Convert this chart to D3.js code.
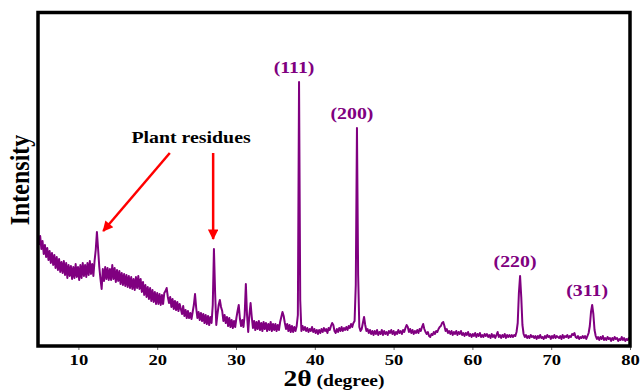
<!DOCTYPE html>
<html>
<head>
<meta charset="utf-8">
<script src="https://cdn.jsdelivr.net/npm/d3@7"></script>
<style>
  body { margin: 0; background: #fff; }
  text { font-family: "Liberation Serif", "Times New Roman", serif; font-weight: bold; }
</style>
</head>
<body>
<div id="chart"></div>
<script>
// XRD scan: 2theta from 5 to 80 deg, step 0.15 deg (501 points)
var scanStart = 5;
var scanStep = 0.15;

// intensity (a.u.), one row = 3 degrees
var intensity = [
  100,109,96,104,91,100,88,97,85,94,82,92,80,90,77,88,75,86,73,83,
  72,84,70,82,67,80,69,79,66,78,67,81,68,78,65,80,67,82,69,80,
  68,82,70,84,71,81,69,84,95,113,96,78,66,56,76,64,78,66,77,65,
  76,65,80,66,77,63,75,64,74,61,72,60,71,59,70,58,69,57,68,56,
  66,55,68,57,69,56,66,53,63,50,60,48,58,46,57,44,55,43,53,41,
  52,41,51,40,50,41,52,54,57,48,42,48,38,46,36,44,35,43,34,41,
  36,31,39,29,35,27,34,27,32,26,33,40,51,37,27,33,25,32,24,31,
  22,30,21,29,20,28,22,40,96,52,20,31,40,45,38,34,24,30,22,28,
  19,27,18,25,17,24,18,27,34,40,26,19,25,18,30,61,30,13,30,42,
  28,17,24,15,23,16,24,15,22,14,23,16,22,14,21,15,23,14,21,15,
  21,14,20,15,23,28,33,29,22,16,21,14,20,13,19,13,18,14,19,30,
  263,45,14,19,15,18,14,17,13,16,14,18,13,16,12,15,11,15,12,16,
  13,17,14,16,12,17,15,19,22,20,14,12,16,13,17,14,18,14,17,15,
  18,15,19,17,21,18,22,24,60,217,70,18,14,16,22,28,20,14,16,12,
  15,11,14,10,14,11,15,10,13,11,15,10,14,11,13,10,14,12,15,11,
  14,10,13,11,15,12,14,11,15,13,17,20,18,13,16,12,15,11,14,12,
  15,12,16,14,18,21,16,13,11,13,9,8,11,10,13,11,14,13,16,18,
  19,22,23,19,14,16,12,14,11,14,10,13,11,14,10,13,11,14,10,12,
  9,12,10,13,9,11,8,11,9,12,8,11,9,12,8,10,8,11,9,11,
  8,10,7,11,8,10,7,10,13,8,10,7,10,8,11,7,10,8,10,8,
  10,8,10,9,13,22,52,69,48,20,11,8,10,7,9,7,10,8,9,7,
  9,6,9,7,10,7,8,6,9,7,10,8,9,6,9,7,10,7,9,8,
  7,9,6,10,7,9,8,10,7,9,8,11,10,12,8,7,9,6,8,7,
  9,7,9,6,9,12,19,33,40,31,15,9,6,8,5,8,6,9,5,7,
  5,8,6,7,4,7,5,8,6,7,4,6,5,8,5,7,4,6,5,7,
  6
];

var xTicks = [10, 20, 30, 40, 50, 60, 70, 80];

// Miller indices and their peak positions
var peakLabels = ["(111)", "(200)", "(220)", "(311)"];
var peakAngles = [38.0, 45.35, 66.05, 75.2];

// annotation: arrows from the caption to the plant residue peaks, [2theta, intensity]
var noteText = "Plant residues";
var notePos = [24.3, 202];
var arrowFrom = [[21.6, 192], [27.1, 192]];
var arrowTo = [[13.15, 114], [27.1, 106]];

var width = 641, height = 392;
var purple = "#800080";
var stretch = 1.24;   // glyphs in the original are drawn wider than tall

var data = intensity.map(function(v, i) {
  return { x: +(scanStart + i * scanStep).toFixed(2), y: v };
});

var x = d3.scaleLinear().domain([5, 80]).range([39, 630]);
var y = d3.scaleLinear().domain([0, 333]).range([345, 12]);

var svg = d3.select("#chart")
  .append("svg")
    .attr("width", width)
    .attr("height", height);

svg.append("defs")
  .append("marker")
    .attr("id", "head")
    .attr("viewBox", "0 0 10 10")
    .attr("refX", 9)
    .attr("refY", 5)
    .attr("markerWidth", 5)
    .attr("markerHeight", 4.2)
    .attr("markerUnits", "strokeWidth")
    .attr("orient", "auto")
  .append("path")
    .attr("d", "M0,0L10,5L0,10Z")
    .attr("fill", "#ff0000");

// pattern
svg.append("path")
  .datum(data)
  .attr("fill", "none")
  .attr("stroke", purple)
  .attr("stroke-width", 2)
  .attr("stroke-linejoin", "round")
  .attr("d", d3.line()
    .x(function(d) { return x(d.x); })
    .y(function(d) { return y(d.y); }));

// bottom axis
var xAxis = svg.append("g")
  .attr("transform", "translate(0,346)")
  .call(d3.axisBottom(x).tickValues(xTicks).tickSize(4).tickPadding(4));
xAxis.select(".domain").remove();
xAxis.selectAll(".tick line").attr("stroke", "#666").attr("stroke-width", 1);
xAxis.selectAll(".tick text")
  .attr("fill", "#000")
  .attr("transform", "scale(" + stretch + ",1)")
  .style("font-size", "15px")
  .style("font-family", "'Liberation Serif', serif")
  .style("font-weight", "bold");

// frame
svg.append("rect")
  .attr("x", 38)
  .attr("y", 12.5)
  .attr("width", 592)
  .attr("height", 333.5)
  .attr("fill", "none")
  .attr("stroke", "#000")
  .attr("stroke-width", 3.5);

// axis titles
var xt = svg.append("text")
  .attr("transform", "translate(334,386) scale(1.15,1)")
  .attr("text-anchor", "middle");
xt.append("tspan").style("font-size", "24px").text("2θ");
xt.append("tspan").style("font-size", "17px").text(" (degree)");

svg.append("text")
  .attr("transform", "translate(29,180) rotate(-90) scale(1,1.1)")
  .attr("text-anchor", "middle")
  .style("font-size", "24px")
  .text("Intensity");

// peak labels
var peakTop = function(a) {
  var i = Math.round((a - scanStart) / scanStep);
  return intensity[i];
};
svg.append("g")
  .selectAll("text")
  .data(peakLabels)
  .enter()
  .append("text")
    .attr("transform", function(d, i) {
      return "translate(" + (x(peakAngles[i]) - 5) + "," + (y(peakTop(peakAngles[i])) - 9) + ") scale(" + stretch + ",1)";
    })
    .attr("text-anchor", "middle")
    .attr("fill", purple)
    .style("font-size", "16px")
    .text(function(d) { return d; });

// plant residues annotation
svg.append("text")
  .attr("transform", "translate(" + x(notePos[0]) + "," + y(notePos[1]) + ") scale(" + stretch + ",1)")
  .attr("text-anchor", "middle")
  .style("font-size", "16px")
  .text(noteText);

svg.append("g")
  .selectAll("line")
  .data(arrowFrom)
  .enter()
  .append("line")
    .attr("x1", function(d) { return x(d[0]); })
    .attr("y1", function(d) { return y(d[1]); })
    .attr("x2", function(d, i) { return x(arrowTo[i][0]); })
    .attr("y2", function(d, i) { return y(arrowTo[i][1]); })
    .attr("stroke", "#ff0000")
    .attr("stroke-width", 2.5)
    .attr("marker-end", "url(#head)");
</script>
</body>
</html>
